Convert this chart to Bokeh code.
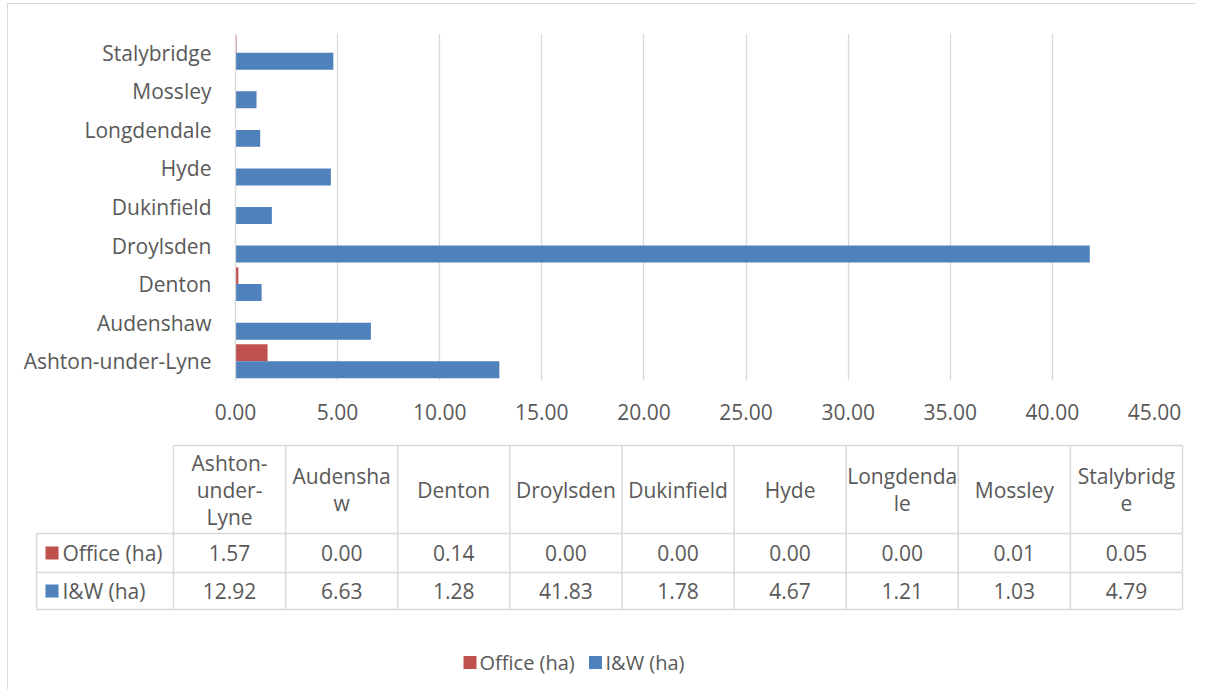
from bokeh.plotting import figure
from bokeh.layouts import column
from bokeh.models import FactorRange, Range1d, FixedTicker, NumeralTickFormatter, ColumnDataSource
from bokeh.transform import dodge
from bokeh.core.properties import value
from bokeh.embed import file_html
from bokeh.resources import INLINE

# ---------------- data ----------------
areas = ["Ashton-under-Lyne", "Audenshaw", "Denton", "Droylsden", "Dukinfield",
         "Hyde", "Longdendale", "Mossley", "Stalybridge"]
header_labels = ["Ashton-\nunder-\nLyne", "Audensha\nw", "Denton", "Droylsden", "Dukinfield",
                 "Hyde", "Longdenda\nle", "Mossley", "Stalybridg\ne"]
office_ha = [1.57, 0.00, 0.14, 0.00, 0.00, 0.00, 0.00, 0.01, 0.05]
iw_ha = [12.92, 6.63, 1.28, 41.83, 1.78, 4.67, 1.21, 1.03, 4.79]
series_names = ["Office (ha)", "I&W (ha)"]
series_colors = ["#C0504D", "#4F81BD"]
x_ticks = [0, 5, 10, 15, 20, 25, 30, 35, 40, 45]

FONT = "Open Sans"
TXT = "#595959"
GRID = "#D9D9D9"

# ---------------- bar chart ----------------
src = ColumnDataSource(dict(area=areas, office=office_ha, iw=iw_ha))

p = figure(y_range=FactorRange(factors=areas), x_range=Range1d(0, 45),
           frame_width=919, frame_height=347,
           min_border_left=227, min_border_right=42, min_border_top=29, min_border_bottom=54,
           output_backend="svg", toolbar_location=None)

p.hbar(y=dodge("area", 0.22, range=p.y_range), right="office", left=0, height=0.44,
       source=src, fill_color=series_colors[0], line_color=None)
p.hbar(y=dodge("area", -0.22, range=p.y_range), right="iw", left=0, height=0.44,
       source=src, fill_color=series_colors[1], line_color=None)

p.outline_line_color = None
p.background_fill_color = "white"
p.border_fill_color = "white"
p.ygrid.grid_line_color = None
p.xgrid.grid_line_color = GRID
p.xgrid.grid_line_width = 1.3
p.xaxis.ticker = FixedTicker(ticks=x_ticks)
p.xaxis.formatter = NumeralTickFormatter(format="0.00")
p.xaxis.axis_line_color = None
p.xaxis.major_tick_line_color = None
p.xaxis.minor_tick_line_color = None
p.xaxis.major_label_standoff = 17
p.yaxis.axis_line_color = GRID
p.yaxis.axis_line_width = 1.3
p.yaxis.major_tick_line_color = None
p.yaxis.minor_tick_line_color = None
p.yaxis.major_label_standoff = 18
for ax in (p.xaxis, p.yaxis):
    ax.major_label_text_font = FONT
    ax.major_label_text_font_size = "21px"
    ax.major_label_text_color = TXT

# ---------------- data table + legend ----------------
t = figure(x_range=Range1d(8, 1196), y_range=Range1d(689, 434),
           width=1188, height=255, min_border=0,
           x_axis_type=None, y_axis_type=None,
           output_backend="svg", toolbar_location=None)
t.outline_line_color = None
t.grid.visible = False
t.background_fill_color = "white"
t.border_fill_color = "white"

n = len(areas)
col_left = 173.0
col_w = (1182.0 - 173.0) / n
row_label_left = 36.0
head_top, head_bot = 445.0, 533.0
row_edges = [533.0, 572.0, 609.0]
col_edges = [col_left + col_w * i for i in range(n + 1)]
col_centers = [col_left + col_w * (i + 0.5) for i in range(n)]

x0s, y0s, x1s, y1s = [], [], [], []
x0s.append(col_left); x1s.append(col_edges[-1]); y0s.append(head_top); y1s.append(head_top)
for ye in row_edges:
    x0s.append(row_label_left); x1s.append(col_edges[-1]); y0s.append(ye); y1s.append(ye)
x0s.append(row_label_left); x1s.append(row_label_left); y0s.append(row_edges[0]); y1s.append(row_edges[-1])
for xe in col_edges:
    x0s.append(xe); x1s.append(xe); y0s.append(head_top); y1s.append(row_edges[-1])
t.segment(x0=x0s, y0=y0s, x1=x1s, y1=y1s, line_color=GRID, line_width=1.5)

hx, hy, ht = [], [], []
line_gap = 27.0
head_mid = (head_top + head_bot) / 2
for cx, lab in zip(col_centers, header_labels):
    parts = lab.split("\n")
    k = len(parts)
    for j, part in enumerate(parts):
        hx.append(cx)
        hy.append(head_mid + (j - (k - 1) / 2) * line_gap)
        ht.append(part)
t.text(x=hx, y=hy, text=ht, text_align="center", text_baseline="middle",
       text_font=value(FONT), text_font_size="21px", text_color=TXT)

series_vals = [office_ha, iw_ha]
for r, vals in enumerate(series_vals):
    cy = (row_edges[r] + row_edges[r + 1]) / 2
    t.text(x=col_centers, y=[cy] * n, text=[f"{v:.2f}" for v in vals],
           text_align="center", text_baseline="middle",
           text_font=value(FONT), text_font_size="21px", text_color=TXT)
    t.rect(x=[51.5], y=[cy], width=13, height=13, fill_color=series_colors[r], line_color=None)
    t.text(x=[62], y=[cy], text=[series_names[r]], text_align="left", text_baseline="middle",
           text_font=value(FONT), text_font_size="21px", text_color=TXT)

leg_y = 662
leg_sq_x = [469.5, 595]
leg_txt_x = [479, 605]
for i in range(2):
    t.rect(x=[leg_sq_x[i]], y=[leg_y], width=13, height=13,
           fill_color=series_colors[i], line_color=None)
    t.text(x=[leg_txt_x[i]], y=[leg_y], text=[series_names[i]], text_align="left",
           text_baseline="middle", text_font=value(FONT), text_font_size="20px", text_color=TXT)

inner = column(column(p), column(t), spacing=0,
               styles={"margin-left": "7px", "margin-top": "3px",
                       "border-left": "1px solid #D9D9D9", "border-top": "1px solid #D9D9D9"})
layout = column(inner)

with open("out.html", "w") as f:
    f.write(file_html(layout, INLINE))
